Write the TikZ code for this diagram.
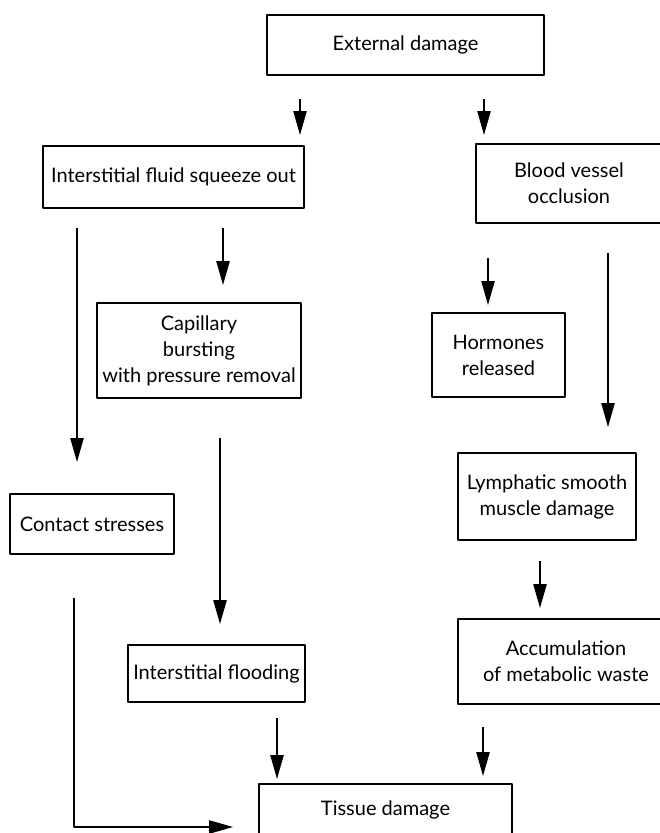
\documentclass[tikz,border=0pt]{standalone}
\usepackage{fontspec}
\setmainfont{Lato}
\usetikzlibrary{arrows.meta}

\begin{document}
\begin{tikzpicture}[x=1pt,y=-1pt,line join=round,
  box/.style={draw,line width=1.7pt,align=center,inner sep=0pt,
    font=\fontsize{20}{26}\selectfont},
  flow/.style={line width=2.2pt,-{Triangle[length=24pt,width=13pt]}}]
\useasboundingbox (0,0) rectangle (660,833);
% boxes, row by row (centres in pixel coordinates)
\node[box,minimum width=277pt,minimum height=60pt] (ext) at (405.5,45) {External damage};
\node[box,minimum width=261pt,minimum height=62pt] (isfo) at (173.5,177) {Interstitial fluid squeeze out};
\node[box,minimum width=186pt,minimum height=79pt] (bvo) at (569,183.5) {Blood vessel\\occlusion};
\node[box,minimum width=204pt,minimum height=95pt] (cap) at (199,350.5) {Capillary\\bursting\\with pressure removal};
\node[box,minimum width=133pt,minimum height=84pt] (horm) at (498.5,355) {Hormones\\released};
\node[box,minimum width=164pt,minimum height=60pt] (cont) at (92,524) {Contact stresses};
\node[box,minimum width=178pt,minimum height=87pt] (lymph) at (547,496.5) {Lymphatic smooth\\muscle damage};
\node[box,minimum width=177pt,minimum height=57pt] (flood) at (216.5,673.5) {Interstitial flooding};
\node[box,minimum width=216pt,minimum height=85pt] (accum) at (566,661.5) {Accumulation\\of metabolic waste};
\node[box,minimum width=253pt,minimum height=52pt] (tissue) at (385.5,810) {Tissue damage};
% arrows, offset from the box centres
\draw[flow,shorten <=23pt,shorten >=10pt] ([xshift=-105.5pt]ext.south) -- ([xshift=-105.5pt]ext.south |- isfo.north);
\draw[flow,shorten <=23pt,shorten >=8pt] ([xshift=78.5pt]ext.south) -- ([xshift=78.5pt]ext.south |- bvo.north);
\draw[flow,shorten <=19pt,shorten >=31pt] ([xshift=-96.5pt]isfo.south) -- ([xshift=-96.5pt]isfo.south |- cont.north);
\draw[flow,shorten <=19pt,shorten >=17pt] ([xshift=49.5pt]isfo.south) -- ([xshift=49.5pt]isfo.south |- cap.north);
\draw[flow,shorten <=34pt,shorten >=7pt] ([xshift=-81pt]bvo.south) -- ([xshift=-81pt]bvo.south |- horm.north);
\draw[flow,shorten <=29pt,shorten >=25pt] ([xshift=39pt]bvo.south) -- ([xshift=39pt]bvo.south |- lymph.north);
\draw[flow,shorten <=39pt,shorten >=20pt] ([xshift=21pt]cap.south) -- ([xshift=21pt]cap.south |- flood.north);
\draw[flow,shorten <=20pt,shorten >=10pt] ([xshift=-7pt]lymph.south) -- ([xshift=-7pt]lymph.south |- accum.north);
\draw[flow,shorten <=15pt,shorten >=4pt] ([xshift=60.5pt]flood.south) -- ([xshift=60.5pt]flood.south |- tissue.north);
\draw[flow,shorten <=22pt,shorten >=7pt] ([xshift=-83pt]accum.south) -- ([xshift=-83pt]accum.south |- tissue.north);
\draw[flow,shorten <=43pt,shorten >=25pt] ([xshift=-18pt]cont.south) |- ([yshift=-17pt]tissue.west);
\end{tikzpicture}
\end{document}
